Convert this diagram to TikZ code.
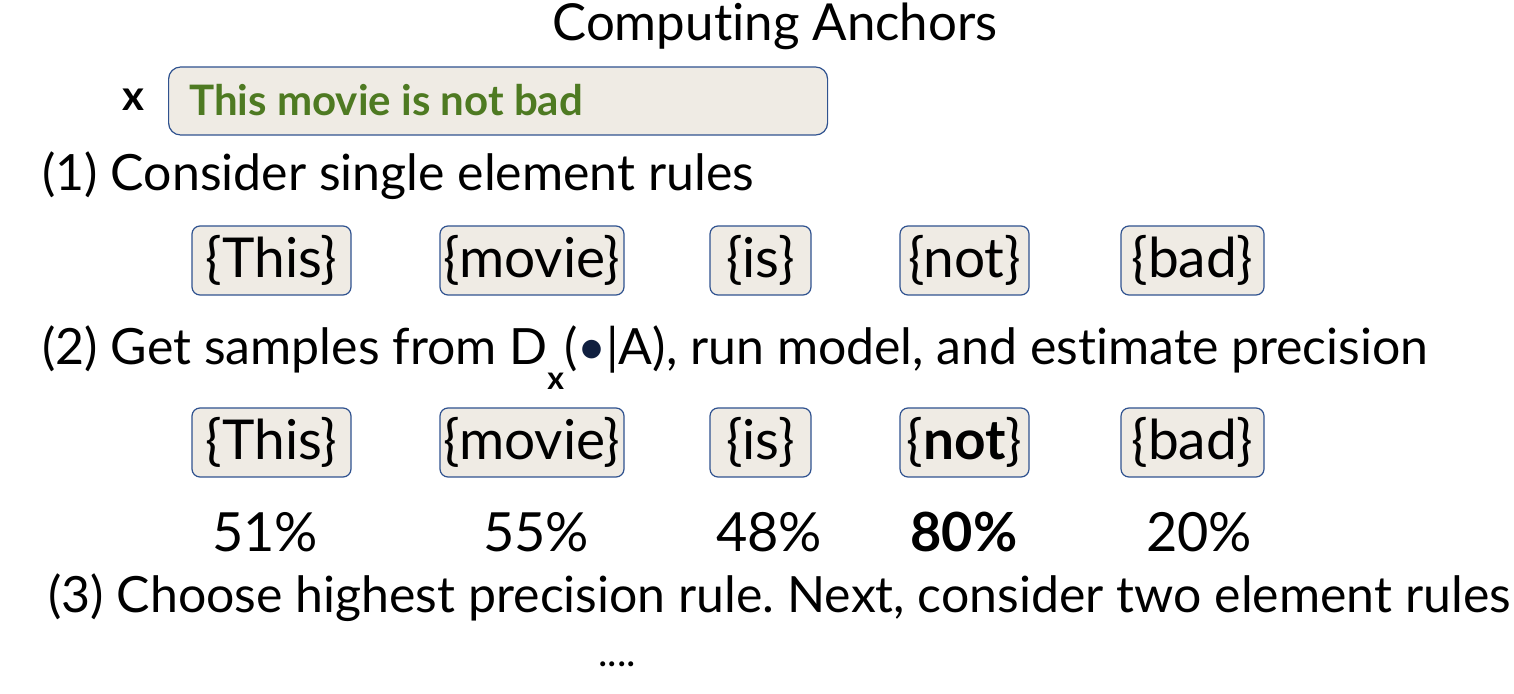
\documentclass[tikz,border=0pt]{standalone}
\usepackage{fontspec}
\setmainfont{Lato}[Ligatures={NoCommon}]
\usepackage{tikz}
\usetikzlibrary{calc}
\definecolor{boxfill}{HTML}{EFEBE4}
\definecolor{boxline}{HTML}{2F528F}
\definecolor{sentgreen}{HTML}{4E7A22}
\definecolor{dotblue}{HTML}{101F3F}
\frenchspacing
\tikzset{
  x=0.5pt, y=-0.5pt,
  plaintext/.style = {inner sep=0pt, font=\fontsize{25}{29}\selectfont},
  steptext/.style = {plaintext, anchor=west},
  tokbox/.style = {draw=boxline, fill=boxfill, rounded corners=4pt, line width=0.6pt,
    inner sep=0pt, font=\fontsize{27.5}{31}\selectfont, minimum height=34.5pt},
  precnum/.style = {inner sep=0pt, font=\fontsize{27}{31}\selectfont}
}
\begin{document}
\begin{tikzpicture}
	\useasboundingbox (0,0) rectangle (1514,694);
	% title and input sentence
	\node [plaintext, font=\fontsize{25.5}{30}\selectfont] (title) at (775,26) {Computing Anchors};
	\node [inner sep=0pt, font=\fontsize{21}{24}\selectfont\bfseries] (xmark) at (133,100) {x};
	\node [draw=boxline, fill=boxfill, rounded corners=6pt, line width=0.6pt,
		minimum width=329.5pt, minimum height=34pt, anchor=west] (sentence) at (168,101) {};
	\node [anchor=west, inner sep=0pt, text=sentgreen, font=\fontsize{21}{25}\selectfont\bfseries]
		(senttext) at (189,100) {This movie is not bad};
	% step 1
	\node [steptext] (stepone) at (42,176) {(1) Consider single element rules};
	\node [tokbox, minimum width=79.5pt] (oneThis) at (271.5,260.5) {\{This\}};
	\node [tokbox, minimum width=92pt] (onemovie) at (532,260.5) {\{movie\}};
	\node [tokbox, minimum width=50.5pt] (oneis) at (760.5,260.5) {\{is\}};
	\node [tokbox, minimum width=64.5pt] (onenot) at (964.5,260.5) {\{not\}};
	\node [tokbox, minimum width=71.5pt] (onebad) at (1192.5,260.5) {\{bad\}};
	% step 2
	\node [steptext] (steptwo) at (42,358) {(2) Get samples from D\raisebox{-0.5em}{\fontsize{16}{18}\selectfont\bfseries x}({\color{dotblue}\textbullet}|A), run model, and estimate precision};
	\node [tokbox, minimum width=79.5pt] (twoThis) at (271.5,442.5) {\{This\}};
	\node [tokbox, minimum width=92pt] (twomovie) at (532,442.5) {\{movie\}};
	\node [tokbox, minimum width=50.5pt] (twois) at (760.5,442.5) {\{is\}};
	\node [tokbox, minimum width=64.5pt] (twonot) at (964.5,442.5) {\{\textbf{not}\}};
	\node [tokbox, minimum width=71.5pt] (twobad) at (1192.5,442.5) {\{bad\}};
	\node [precnum] (precThis) at (265,532) {51\%};
	\node [precnum] (precmovie) at (536,532) {55\%};
	\node [precnum] (precis) at (769,532) {48\%};
	\node [precnum, font=\fontsize{27}{31}\selectfont\bfseries] (precnot) at (964,532) {80\%};
	\node [precnum] (precbad) at (1199,532) {20\%};
	% step 3
	\node [steptext] (stepthree) at (48,598) {(3) Choose highest precision rule. Next, consider two element rules};
	\node [plaintext, font=\fontsize{20}{24}\selectfont] (more) at (617,664) {....};
\end{tikzpicture}
\end{document}
